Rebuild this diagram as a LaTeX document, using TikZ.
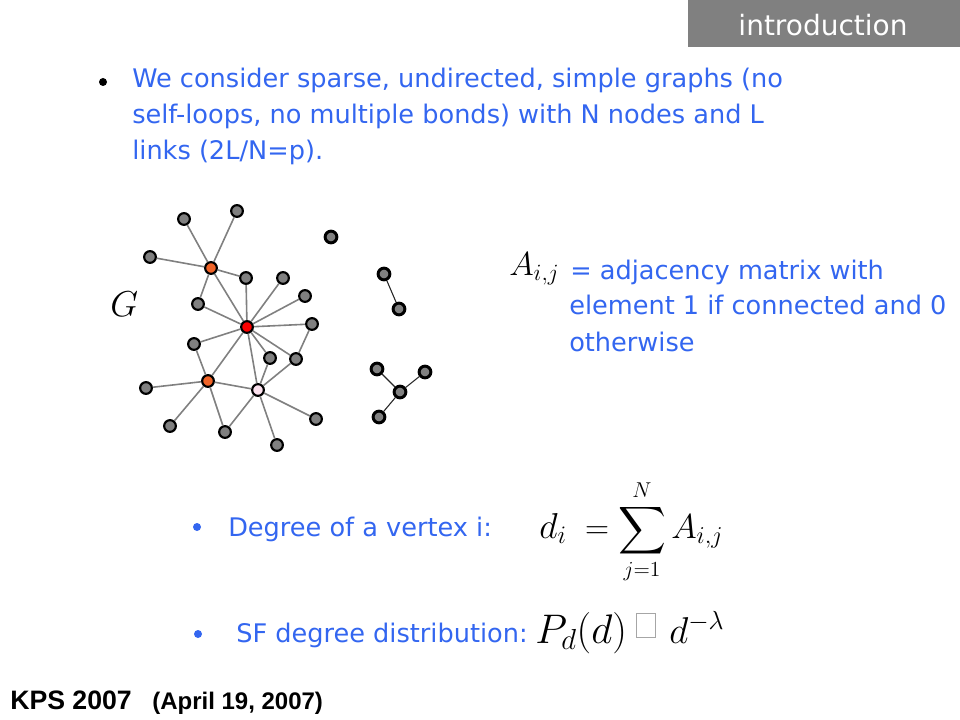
\documentclass[tikz,border=0pt]{standalone}
\usepackage{fix-cm}
\usepackage{amsmath}
\usepackage{fontspec}
\setmainfont{DejaVu Sans}
\newfontfamily\arialb{Liberation Sans}
\definecolor{txtblue}{RGB}{51,102,240}
\definecolor{titlegray}{RGB}{128,128,128}
\definecolor{nodegray}{RGB}{128,128,128}
\definecolor{edgegray}{RGB}{128,128,128}
\definecolor{hubred}{RGB}{250,0,0}
\definecolor{huborange}{RGB}{240,100,40}
\definecolor{hubpink}{RGB}{252,225,238}
\tikzset{
  gn/.style={circle, draw=black, line width=1.6pt, fill=nodegray, minimum size=8.8pt, inner sep=0pt},
  gnb/.style={gn, minimum size=8.8pt, line width=2.2pt},
  redn/.style={gn, fill=hubred},
  orn/.style={gn, fill=huborange},
  pkn/.style={gn, fill=hubpink},
  ed/.style={draw=edgegray, line width=1.2pt},
  edk/.style={draw=black!85, line width=0.8pt},
  body/.style={text=txtblue, font=\fontsize{19.2}{27}\selectfont, anchor=base west, inner sep=0pt},
  bul/.style={circle, inner sep=0pt, minimum size=6pt},
  mth/.style={inner sep=0pt, font=\fontsize{#1}{#1}\selectfont},
}
\begin{document}
\begin{tikzpicture}[x=0.75pt,y=-0.75pt]
\useasboundingbox (0,0) rectangle (960,720);
% title
\fill[titlegray] (688,0) rectangle (960,47);
\node[text=white, font=\fontsize{21}{25}\selectfont, inner sep=0pt] (title) at (823,25) {introduction};
% first bullet
\node[bul, fill=black] (b1) at (103,82) {};
\node[body] (l1) at (132,88) {We consider sparse, undirected, simple graphs (no};
\node[body] (l2) at (132,124) {self-loops, no multiple bonds) with N nodes and L};
\node[body] (l3) at (132,160) {links (2L/N=p).};
% adjacency text
\node[mth=25, anchor=base west] (aij) at (509,276) {$A_{i,j}$};
\node[body] (m1) at (570,280) {= adjacency matrix with};
\node[body] (m2) at (569,315) {element 1 if connected and 0};
\node[body] (m3) at (569,351) {otherwise};
% G label
\node[mth=27, anchor=base west] (G) at (110,316) {$G$};
% graph nodes
\node[gn] (n1) at (184,219) {};
\node[gn] (n2) at (237,211) {};
\node[gn] (n3) at (150,257) {};
\node[orn] (o1) at (211,268) {};
\node[gn] (n4) at (246,278) {};
\node[gn] (n5) at (283,278) {};
\node[gn] (n6) at (305,296) {};
\node[gn] (n7) at (198,304) {};
\node[redn] (r) at (247,327) {};
\node[gn] (n8) at (312,324) {};
\node[gn] (n9) at (194,344) {};
\node[gn] (n10) at (270,358) {};
\node[gn] (n11) at (296,359) {};
\node[orn] (o2) at (208,381) {};
\node[pkn] (pk) at (258,390) {};
\node[gn] (n12) at (146,388) {};
\node[gn] (n13) at (170,426) {};
\node[gn] (n14) at (225,432) {};
\node[gn] (n15) at (316,419) {};
\node[gn] (n16) at (277,445) {};
\node[gnb] (iso) at (331,237) {};
\node[gnb] (pa) at (384,274) {};
\node[gnb] (pb) at (399,309) {};
\node[gnb] (tc) at (377,369) {};
\node[gnb] (tm) at (400,392) {};
\node[gnb] (td) at (425,372) {};
\node[gnb] (te) at (379,417) {};
% edges
\foreach \a/\b in {o1/n1,o1/n2,o1/n3,o1/n4,o1/n7,o1/r,r/n4,r/n5,r/n6,r/n8,r/n7,r/n9,r/n10,r/n11,r/o2,r/pk,n8/n11,n9/o2,o2/n12,o2/n13,o2/n14,o2/pk,pk/n10,pk/n11,pk/n14,pk/n15,pk/n16}
  \draw[ed] (\a) -- (\b);
\draw[edk] (pa) -- (pb);
\draw[edk] (tm) -- (tc);
\draw[edk] (tm) -- (td);
\draw[edk] (tm) -- (te);
% degree
\node[bul, fill=txtblue] (b2) at (197,527) {};
\node[body] (deg) at (228,536) {Degree of a vertex i:};
\node[mth=27, anchor=base west] (di) at (539,538) {$d_i$};
\node[mth=25, anchor=base] (eq) at (597,538) {$=$};
\node[mth=23, anchor=base] (sum) at (642,538) {$\displaystyle\sum_{j=1}^{N}$};
\node[mth=26, anchor=base west] (asum) at (671,538) {$A_{i,j}$};
% SF
\node[bul, fill=txtblue] (b3) at (198,634) {};
\node[body] (sf) at (236,642) {SF degree distribution:};
\node[mth=31, anchor=base west] (pd) at (535,643) {$P_d(d)$};
\node[draw=black!35, line width=0.6pt, minimum width=14pt, minimum height=18pt, inner sep=0pt, anchor=south west] (box) at (636,638) {};
\node[mth=28, anchor=base west] (dl) at (669,643) {$d^{-\lambda}$};
% footer
\node[anchor=base west, inner sep=0pt, font=\arialb\bfseries\fontsize{20}{24}\selectfont] (kps) at (10,709) {KPS 2007};
\node[anchor=base west, inner sep=0pt, font=\arialb\bfseries\fontsize{18}{22}\selectfont] (date) at (152,709) {(April 19, 2007)};
\end{tikzpicture}
\end{document}
